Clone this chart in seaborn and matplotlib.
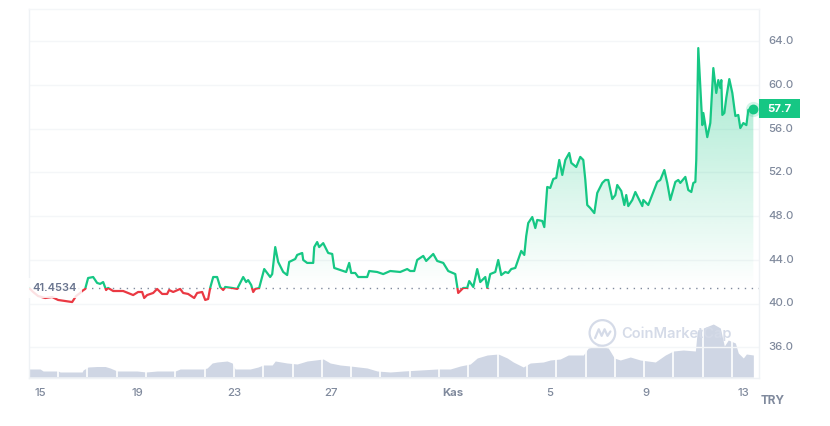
#!/usr/bin/env python3

import numpy as np
import pandas as pd
import seaborn as sns
import matplotlib.pyplot as plt
from matplotlib.patches import Rectangle, PathPatch
from matplotlib.transforms import ScaledTranslation

# -------------------------------
# DATA (hours since 15 Oct, TRY)
# -------------------------------
hours = [
    -10.9, -6.9, -2.0, 5.0, 11.9, 17.8, 24.8, 31.7, 35.6, 39.6, 41.6, 44.6, 47.5, 52.5, 56.4, 59.4,
    62.4, 65.3, 67.3, 72.3, 82.2, 87.1, 92.1, 97.0, 101.0, 103.0, 105.9, 111.9, 115.8, 120.8, 125.7,
    127.7, 131.7, 138.6, 141.6, 146.5, 152.5, 155.4, 160.4, 163.4, 166.3, 168.3, 171.3, 175.2, 178.2,
    181.2, 183.2, 190.1, 195.0, 201.0, 203.9, 205.9, 208.9, 210.9, 212.9, 216.8, 221.8, 224.7, 227.7,
    229.7, 232.7, 235.6, 240.6, 244.5, 246.5, 252.5, 254.4, 259.4, 260.4, 264.3, 270.3, 271.3, 274.2,
    276.2, 280.2, 285.1, 289.1, 291.1, 297.0, 302.9, 305.9, 307.9, 311.9, 314.8, 323.7, 325.7, 333.6,
    339.6, 346.5, 356.4, 363.3, 366.3, 370.3, 373.2, 379.2, 382.1, 389.1, 393.0, 399.0, 403.9, 410.9,
    413.8, 418.8, 422.7, 424.7, 428.7, 432.6, 435.6, 440.6, 442.5, 445.5, 450.5, 453.4, 456.4, 460.4,
    463.3, 466.3, 470.3, 476.2, 479.2, 481.1, 483.1, 487.1, 490.1, 492.0, 497.0, 499.0, 501.9, 504.9,
    507.9, 510.8, 513.8, 516.8, 519.8, 523.7, 525.7, 530.6, 534.6, 537.6, 539.6, 541.5, 544.5, 548.5,
    551.4, 554.4, 556.4, 559.4, 562.3, 566.3, 569.3, 571.2, 575.2, 578.2, 580.1, 582.1, 586.1, 589.1,
    596.0, 597.0, 601.9, 610.8, 613.8, 617.8, 620.7, 623.7, 628.7, 631.6, 633.6, 638.6, 641.5, 644.5,
    646.5, 648.5, 649.4, 651.4, 653.4, 655.4, 656.4, 660.3, 663.3, 666.3, 669.2, 671.2, 673.2, 674.2,
    675.2, 677.2, 679.1, 682.1, 685.1, 688.1, 691.0, 693.0, 696.0, 699.0, 700.9, 705.9,
]
price = [
    41.43, 41.06, 40.69, 40.51, 40.60, 40.33, 40.23, 40.14, 40.69, 40.97, 41.15, 41.34, 42.34, 42.43, 41.89, 41.80,
    41.97, 41.24, 41.43, 41.15, 41.15, 40.97, 40.78, 41.06, 41.06, 40.51, 40.78, 40.97, 41.34, 40.88, 40.88,
    41.24, 41.06, 41.34, 40.97, 40.88, 40.51, 40.97, 41.06, 40.33, 40.42, 41.43, 42.43, 42.43, 41.52,
    41.24, 41.52, 41.43, 41.34, 42.43, 41.97, 42.15, 41.70, 41.06, 41.34, 41.43, 43.16, 42.80, 42.43,
    42.70, 45.17, 43.81, 42.89, 42.61, 43.81, 44.08, 44.45, 44.63, 43.99, 43.72, 43.72, 45.17, 45.63,
    45.17, 45.53, 44.63, 44.54, 43.26, 43.07, 42.89, 43.72, 42.80, 42.80, 42.43, 42.43, 42.98, 42.89,
    42.70, 42.98, 42.89, 43.16, 42.98, 42.98, 43.99, 44.36, 43.90, 44.54, 43.90, 43.72, 42.98, 42.70,
    40.97, 41.43, 41.43, 42.06, 41.52, 43.16, 41.97, 42.43, 41.43, 42.70, 42.89, 43.99, 42.61, 42.89,
    42.80, 43.16, 43.26, 44.82, 44.45, 46.18, 47.37, 47.92, 46.91, 47.65, 47.56, 47.00, 50.67, 50.58,
    51.40, 51.50, 53.14, 51.77, 53.14, 53.78, 52.87, 52.50, 53.42, 53.14, 51.31, 49.02, 48.74, 48.28,
    50.12, 50.67, 51.04, 51.31, 51.31, 49.57, 49.93, 50.85, 50.30, 49.02, 49.93, 48.92, 49.48, 50.21,
    48.92, 49.48, 49.02, 51.13, 51.31, 52.22, 51.04, 49.48, 51.13, 51.31, 51.04, 51.59, 50.39, 50.21,
    51.04, 51.13, 53.14, 63.38, 59.81, 56.33, 57.44, 55.23, 56.52, 61.55, 59.27, 60.45, 59.73, 60.45,
    57.26, 57.44, 58.81, 60.54, 59.27, 57.16, 57.26, 56.06, 56.52, 56.33, 57.72, 57.81,
]

vol_hours = [
    -10.9, 0, 3, 17.8, 19.8, 41.6, 42.6, 47.5, 56.4, 64.4, 69.3, 76.2, 96, 104.9, 115.8, 133.7, 138.6,
    161.4, 165.3, 170.3, 175.2, 185.1, 190.1, 193, 207.9, 215.8, 220.8, 229.7, 232.7, 244.5, 254.4,
    264.3, 280.2, 287.1, 297, 306.9, 323.7, 333.6, 346.5, 359.4, 376.2, 393, 405.9, 415.8, 425.7,
    432.6, 442.5, 453.4, 462.3, 468.3, 478.2, 485.1, 498, 504.9, 514.8, 522.7, 537.6, 542.5, 552.4,
    562.3, 568.3, 574.2, 584.1, 594, 608.9, 618.8, 626.7, 636.6, 648.5, 650.4, 656.4, 666.3, 673.2,
    677.2, 681.1, 688.1, 691, 696, 699, 705.9,
]
volume = [
    8, 8, 6, 6, 5, 5, 7, 10, 10.5, 10.5, 9, 6, 6, 5, 6, 6, 8,
    8, 9, 14, 15, 16, 14, 8, 8, 10, 12, 12, 16, 14, 13,
    16, 18, 14, 12, 11, 9, 6, 5, 6, 7, 8, 8, 11, 13,
    19, 22, 23, 19, 15, 10, 14, 15, 17, 18, 22, 22, 29, 31,
    29, 19, 17, 20, 17, 15, 22, 26, 27, 26, 46, 49, 53, 49,
    31, 37, 34, 24, 19, 23, 22,
]

base_price = 41.4534
last_price = 57.7

y_ticks = [36, 40, 44, 48, 52, 56, 60, 64]
x_ticks = [0, 96, 192, 288, 408, 504, 600, 696]
x_labels = ["15", "19", "23", "27", "Kas", "5", "9", "13"]

GREEN = "#16c784"
RED = "#ea3943"
GREY = "#808a9d"
EDGE = "#eff2f5"
VOL = "#cfd6e4"

df = pd.DataFrame({"hours": hours, "price": price})
vol_df = pd.DataFrame({"hours": vol_hours, "volume": volume})

# -------------------------------
# FIGURE
# -------------------------------
sns.set_theme(style="white")
plt.rcParams["font.family"] = ["Inter", "DejaVu Sans"]

fig = plt.figure(figsize=(8.3, 4.26), dpi=100)
ax = fig.add_axes([29 / 830, 48 / 426, 729.5 / 830, 369.5 / 426])
ax_vol = ax.twinx()
ax.set_zorder(ax_vol.get_zorder() + 1)
ax.patch.set_visible(False)

xlim = (-11, 711)
ylim = (33.19, 67.0)

# -------------------------------
# VOLUME
# -------------------------------
ax_vol.fill_between(vol_df["hours"], vol_df["volume"], color=VOL, lw=0)
ax_vol.vlines(np.arange(17.8, 706, 29.0), 0, 60, color="white", lw=1.2)
ax_vol.set_ylim(-1, 368.5)
ax_vol.set_yticks([])
ax_vol.set_ylabel("")
for s in ax_vol.spines.values():
    s.set_visible(False)

# -------------------------------
# GRADIENT UNDER LINE
# -------------------------------
area = ax.fill_between(df["hours"], np.maximum(df["price"], base_price), base_price, color="none", lw=0)
clip_path = area.get_paths()[0]
alpha = np.linspace(0.4, 0, 256).reshape(-1, 1)
rgba = np.ones((256, 1, 4))
rgba[..., :3] = plt.matplotlib.colors.to_rgb(GREEN)
rgba[..., 3] = alpha
im = ax.imshow(rgba, aspect="auto", zorder=1, interpolation="bilinear",
               extent=(hours[0], hours[-1], base_price, max(price)))
patch = PathPatch(clip_path, transform=ax.transData, fc="none", ec="none")
ax.add_patch(patch)
im.set_clip_path(patch)

# -------------------------------
# PRICE LINE, GREEN ABOVE / RED BELOW
# -------------------------------
sns.lineplot(data=df, x="hours", y="price", ax=ax, color=GREEN, lw=1.6, zorder=3, errorbar=None, sort=False)
line_up = ax.lines[-1]
sns.lineplot(data=df, x="hours", y="price", ax=ax, color=RED, lw=1.6, zorder=3, errorbar=None, sort=False)
line_down = ax.lines[-1]
line_up.set_clip_path(Rectangle((xlim[0], base_price), xlim[1] - xlim[0], ylim[1] - base_price, transform=ax.transData))
line_down.set_clip_path(Rectangle((xlim[0], ylim[0]), xlim[1] - xlim[0], base_price - ylim[0], transform=ax.transData))

ax.axhline(base_price, color=GREY, lw=1, ls=(0, (1, 4)), zorder=2)

# end marker
ax.scatter(hours[-1], price[-1], s=120, color=GREEN, alpha=0.18, lw=0, zorder=4)
ax.scatter(hours[-1], price[-1], s=50, color=GREEN, lw=0, zorder=5)

# -------------------------------
# AXES
# -------------------------------
ax.set_xlim(xlim)
ax_vol.set_xlim(xlim)
ax.set_ylim(ylim)
ax.set_xlabel("")
ax.set_ylabel("")

ax.set_yticks(y_ticks)
ax.set_yticklabels([f"{v:.1f}" for v in y_ticks])
ax.yaxis.tick_right()
ax.tick_params(axis="y", length=0, pad=7, labelsize=8.2, labelcolor=GREY)
ax.set_xticks(x_ticks)
ax.set_xticklabels(x_labels)
ax.tick_params(axis="x", length=3, width=1, color=EDGE, pad=4, labelsize=8.2, labelcolor=GREY)
for lab in ax.get_xticklabels() + ax.get_yticklabels():
    lab.set_fontweight("medium")
ax.get_xticklabels()[4].set_fontweight("bold")

# tick labels sit a pixel above their gridlines
for lab in ax.get_yticklabels():
    lab.set_transform(lab.get_transform() + ScaledTranslation(0, 1.2 / 100, fig.dpi_scale_trans))

ax.grid(axis="y", color="#f4f6f8", lw=1)
ax.set_axisbelow(True)
for s in ax.spines.values():
    s.set_color(EDGE)
    s.set_linewidth(1)
ax.spines["top"].set_color("#f4f6f8")

# -------------------------------
# LABELS
# -------------------------------
ax.text(0.0045, base_price, f"{base_price:.4f}", transform=ax.get_yaxis_transform(), fontsize=8,
        fontweight="semibold", color="#6b7690", va="center", ha="left", zorder=6,
        bbox=dict(fc="white", ec="none", alpha=0.85, pad=3.6))

tag = Rectangle((1.001, price[-1] - 0.875), 0.056, 1.75, transform=ax.get_yaxis_transform(),
                fc=GREEN, ec="none", clip_on=False, zorder=6)
ax.add_patch(tag)
ax.text(1.029, price[-1], f"{last_price:.1f}", transform=ax.get_yaxis_transform(), color="white",
        fontsize=8.2, fontweight="bold", ha="center", va="center", zorder=7, clip_on=False)

fig.text(773 / 830, 1 - 401.5 / 426, "TRY", color=GREY, fontsize=8.5, fontweight="bold", ha="center", va="center")

# watermark
ax.text(0.812, 0.121, "CoinMarketCap", transform=ax.transAxes, color="#d5dbe8", fontsize=10.5,
        fontweight="semibold", ha="left", va="center", zorder=2)
ax.scatter([0.786], [0.122], transform=ax.transAxes, s=340, facecolor="none", edgecolor="#d5dbe8", lw=1.6, zorder=2)
ax.plot([0.776, 0.781, 0.785, 0.789, 0.793, 0.797], [0.108, 0.132, 0.114, 0.132, 0.114, 0.126],
        transform=ax.transAxes, color="#d5dbe8", lw=1.6, zorder=2)

fig.savefig("out.png", dpi=100)
